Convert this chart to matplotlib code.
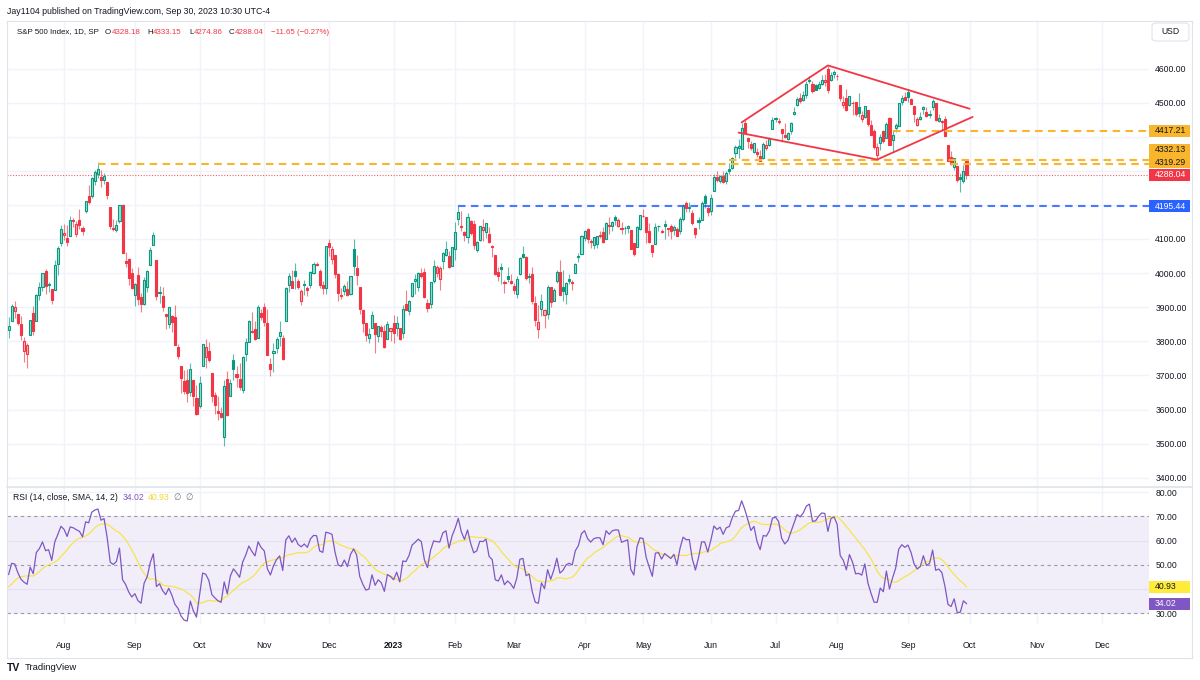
import numpy as np
import pandas as pd
import matplotlib
matplotlib.use("Agg")
import matplotlib.pyplot as plt
from matplotlib.patches import Rectangle, FancyBboxPatch
from matplotlib.lines import Line2D

FONT = ['Liberation Sans', 'DejaVu Sans']
plt.rcParams['font.family'] = FONT

# ---------------- texts ----------------
TITLE = "Jay1104 published on TradingView.com, Sep 30, 2023 10:30 UTC-4"
SYMBOL = "S&P 500 Index, 1D, SP"
RSI_TITLE = "RSI (14, close, SMA, 14, 2)"
RSI_LAST = 34.02
RSI_MA_LAST = 40.93

# ---------------- data (S&P 500 daily O, H, L, C) ----------------
WARMUP_CLOSES = [4545.9, 4582.6, 4525.1, 4481.2, 4500.2, 4488.3, 4412.5, 4397.5, 4446.6, 4392.6,
                 4391.7, 4462.2, 4459.5, 4393.7, 4271.8, 4296.1, 4175.2, 4184.0, 4287.5, 4131.9,
                 4155.4, 4175.5, 4300.2, 4146.9, 4123.3, 3991.2, 4001.1, 3935.2, 3930.1, 4023.9,
                 4008.0, 4088.9, 3923.7, 3900.8, 3901.4, 3973.8, 3941.5, 3978.7, 4057.8, 4158.2,
                 4132.2, 4101.2, 4176.8, 4108.5, 4121.4, 4160.7, 4115.8, 4017.8, 3900.9, 3749.6,
                 3735.5, 3790.0, 3666.8, 3674.8, 3764.8, 3759.9, 3795.7, 3911.7, 3900.1, 3821.6,
                 3818.8, 3785.4, 3825.3, 3831.4]

JUL22 = [(3832.0, 3870.9, 3809.4, 3845.1), (3858.9, 3910.6, 3858.9, 3902.6), (3888.3, 3918.5, 3869.3, 3899.4),
         (3880.9, 3880.9, 3847.2, 3854.4), (3852.0, 3873.4, 3802.4, 3818.8), (3771.8, 3813.1, 3740.3, 3801.8),
         (3764.0, 3796.4, 3721.6, 3790.4), (3818.0, 3863.6, 3817.2, 3863.2), (3883.8, 3902.4, 3818.6, 3830.9),
         (3860.7, 3939.8, 3860.7, 3936.7), (3935.3, 3974.1, 3922.0, 3959.9), (3960.6, 3999.3, 3946.7, 3999.0),
         (4007.0, 4012.4, 3938.9, 3961.6), (3965.7, 3975.3, 3943.5, 3966.8), (3953.2, 3953.2, 3910.7, 3921.1),
         (3951.4, 4039.6, 3951.4, 4023.6), (4026.1, 4079.0, 3993.0, 4072.4), (4087.3, 4140.2, 4079.2, 4130.3)]
AUG22 = [(4112.4, 4145.0, 4096.0, 4118.6), (4104.2, 4140.5, 4079.8, 4091.2), (4108.0, 4167.7, 4108.0, 4155.2),
         (4154.9, 4161.3, 4135.4, 4151.9), (4115.9, 4151.6, 4107.3, 4145.2), (4155.9, 4186.6, 4129.0, 4140.1),
         (4133.1, 4137.3, 4112.1, 4122.5), (4181.0, 4211.0, 4177.3, 4210.2), (4227.4, 4257.9, 4201.4, 4207.3),
         (4225.0, 4280.5, 4219.8, 4280.2), (4269.4, 4301.8, 4256.9, 4297.1), (4290.5, 4325.3, 4277.8, 4305.2),
         (4280.4, 4302.2, 4253.1, 4274.0), (4273.1, 4292.5, 4262.0, 4283.7), (4266.3, 4266.3, 4218.7, 4228.5),
         (4195.1, 4195.1, 4129.9, 4138.0), (4133.1, 4159.8, 4124.0, 4128.7), (4126.6, 4156.6, 4120.0, 4140.8),
         (4153.3, 4200.5, 4147.6, 4199.1), (4198.7, 4203.0, 4057.7, 4057.7), (4034.6, 4063.0, 4017.4, 4030.6),
         (4041.3, 4045.0, 3965.2, 3986.2), (4000.7, 4015.4, 3954.5, 3955.0)]
SEP22 = [(3936.7, 3970.2, 3903.7, 3966.9), (3994.7, 4018.4, 3906.2, 3924.3), (3930.9, 3942.6, 3886.8, 3908.2),
         (3909.4, 3987.9, 3906.0, 3979.9), (3959.9, 4010.5, 3944.8, 4006.2), (4022.9, 4076.8, 4022.9, 4067.4),
         (4083.7, 4119.3, 4083.7, 4110.4), (4037.1, 4037.1, 3921.8, 3932.7), (3940.7, 3961.9, 3912.3, 3946.0),
         (3932.4, 3959.1, 3888.3, 3901.4), (3881.0, 3881.0, 3837.1, 3873.3), (3849.9, 3900.5, 3838.5, 3899.9),
         (3875.2, 3876.0, 3827.5, 3855.9), (3871.4, 3907.1, 3789.5, 3789.9), (3782.4, 3790.7, 3749.5, 3758.0),
         (3727.1, 3727.1, 3647.5, 3693.2), (3682.7, 3715.7, 3644.8, 3655.0), (3686.4, 3717.5, 3623.3, 3647.3),
         (3651.9, 3736.7, 3640.6, 3719.0), (3687.0, 3687.0, 3610.4, 3640.5), (3633.5, 3671.4, 3584.1, 3585.6)]
OCT22 = [(3609.8, 3698.4, 3604.9, 3678.4), (3726.5, 3791.9, 3726.5, 3790.9), (3753.3, 3806.9, 3722.7, 3783.3),
         (3772.0, 3797.9, 3739.2, 3744.5), (3706.7, 3706.7, 3620.7, 3639.7), (3643.3, 3652.2, 3588.1, 3612.4),
         (3595.9, 3640.7, 3568.5, 3588.8), (3590.8, 3608.3, 3573.9, 3577.0), (3520.4, 3685.4, 3491.6, 3669.9),
         (3690.4, 3712.0, 3579.7, 3583.1), (3638.7, 3689.7, 3638.7, 3678.0), (3746.3, 3762.8, 3686.5, 3720.0),
         (3703.1, 3728.6, 3666.5, 3695.2), (3689.1, 3736.0, 3656.4, 3665.8), (3657.1, 3757.9, 3647.4, 3752.8),
         (3762.0, 3810.7, 3741.7, 3797.3), (3799.4, 3862.9, 3799.4, 3859.1), (3826.0, 3886.2, 3824.1, 3830.6),
         (3834.7, 3860.0, 3803.8, 3807.3), (3808.3, 3905.4, 3808.3, 3901.1), (3881.9, 3893.7, 3863.2, 3872.0)]
NOV22 = [(3901.8, 3911.8, 3843.8, 3856.1), (3852.9, 3894.4, 3758.7, 3759.7), (3733.3, 3750.6, 3698.2, 3719.9),
         (3767.0, 3796.3, 3708.8, 3770.6), (3780.7, 3814.0, 3764.7, 3806.8), (3817.0, 3859.4, 3786.3, 3828.1),
         (3810.9, 3818.2, 3744.2, 3748.6), (3859.9, 3958.3, 3859.9, 3956.4), (3963.7, 4001.5, 3944.8, 3992.9),
         (3978.0, 4009.0, 3956.4, 3957.3), (4006.4, 4028.8, 3953.2, 3991.7), (3976.8, 3983.1, 3954.3, 3958.8),
         (3919.3, 3954.3, 3906.5, 3946.6), (3966.4, 3979.9, 3936.0, 3965.3), (3956.2, 3962.0, 3933.3, 3949.9),
         (3965.5, 4005.9, 3956.9, 4003.6), (4000.3, 4033.8, 3998.7, 4027.3), (4023.3, 4034.0, 4020.8, 4026.1),
         (4005.4, 4012.3, 3955.8, 3963.9), (3964.2, 3976.8, 3937.7, 3957.6), (3957.2, 4080.1, 3938.6, 4080.1)]
DEC22 = [(4087.1, 4100.5, 4050.9, 4076.6), (4040.2, 4080.5, 4026.6, 4071.7), (4052.0, 4052.5, 3984.5, 3998.8),
         (3996.6, 4001.5, 3918.4, 3941.3), (3933.3, 3957.6, 3922.7, 3933.9), (3947.8, 3966.7, 3935.8, 3963.5),
         (3954.2, 3977.0, 3933.0, 3934.4), (3939.3, 3990.7, 3935.3, 3990.6), (4069.4, 4101.0, 3993.0, 4019.7),
         (4015.5, 4053.8, 3965.7, 3995.3), (3958.4, 3958.4, 3879.5, 3895.8), (3890.9, 3890.9, 3827.9, 3852.4),
         (3853.8, 3854.9, 3800.0, 3817.7), (3810.5, 3838.2, 3795.6, 3821.6), (3839.5, 3889.8, 3839.5, 3878.4),
         (3853.3, 3853.3, 3764.5, 3822.4), (3815.1, 3845.8, 3797.0, 3844.8), (3843.3, 3846.7, 3813.2, 3829.3),
         (3829.6, 3848.3, 3780.8, 3783.2), (3805.5, 3858.2, 3805.5, 3849.3), (3829.1, 3839.9, 3800.3, 3839.5)]
JAN23 = [(3853.3, 3878.5, 3794.3, 3824.1), (3840.4, 3873.2, 3815.8, 3853.0), (3839.7, 3839.7, 3802.4, 3808.1),
         (3823.4, 3906.2, 3809.6, 3895.1), (3910.8, 3950.6, 3890.4, 3892.1), (3888.6, 3919.8, 3877.3, 3919.3),
         (3932.4, 3970.1, 3928.5, 3969.6), (3977.6, 3997.8, 3937.6, 3983.2), (3960.6, 4004.0, 3947.7, 3999.1),
         (3999.3, 4015.4, 3984.6, 3991.0), (4002.3, 4014.2, 3926.6, 3928.9), (3911.8, 3922.9, 3885.5, 3898.9),
         (3909.0, 3973.0, 3897.9, 3972.6), (3978.1, 4039.3, 3971.6, 4019.8), (4001.7, 4023.9, 3989.8, 4017.0),
         (3982.7, 4019.6, 3949.1, 4016.2), (4036.1, 4061.6, 4013.3, 4060.4), (4053.7, 4094.2, 4048.7, 4070.6),
         (4049.3, 4063.9, 4015.6, 4017.8), (4020.9, 4077.2, 4020.4, 4076.6)]
FEB23 = [(4070.1, 4149.0, 4037.2, 4119.2), (4158.7, 4195.4, 4141.9, 4179.8), (4136.7, 4182.4, 4123.4, 4136.5),
         (4119.6, 4124.6, 4093.4, 4111.1), (4105.4, 4176.5, 4088.4, 4164.0), (4153.5, 4156.9, 4111.7, 4117.9),
         (4144.3, 4156.2, 4069.7, 4081.5), (4068.9, 4094.4, 4060.8, 4090.5), (4096.6, 4138.9, 4092.7, 4137.3),
         (4126.7, 4159.8, 4095.0, 4136.1), (4119.5, 4148.1, 4104.0, 4147.6), (4114.8, 4136.5, 4089.5, 4090.4),
         (4077.4, 4081.5, 4048.0, 4079.1), (4052.4, 4052.4, 3995.2, 3997.3), (4001.8, 4017.4, 3976.9, 3991.1),
         (4018.6, 4028.3, 3969.2, 4012.3), (3973.2, 3978.3, 3943.1, 3970.0), (3992.4, 4018.1, 3973.6, 3982.2),
         (3977.2, 3997.5, 3969.0, 3970.2)]
MAR23 = [(3963.3, 3971.7, 3939.1, 3951.4), (3938.7, 3990.8, 3928.2, 3981.4), (3998.0, 4048.3, 3995.2, 4045.6),
         (4055.2, 4078.5, 4044.6, 4048.4), (4048.3, 4050.0, 3980.3, 3986.4), (3987.6, 4000.4, 3969.8, 3992.0),
         (3998.7, 4017.8, 3908.7, 3918.3), (3912.8, 3934.1, 3846.3, 3861.6), (3835.1, 3905.1, 3808.9, 3855.8),
         (3894.0, 3937.3, 3873.6, 3919.3), (3876.7, 3894.3, 3838.2, 3891.9), (3878.9, 3964.5, 3864.1, 3960.3),
         (3958.7, 3958.9, 3901.3, 3916.6), (3917.5, 3956.6, 3916.9, 3951.6), (3975.9, 4009.1, 3971.2, 4002.9),
         (4002.0, 4039.5, 3936.2, 3937.0), (3959.2, 4007.7, 3919.1, 3948.7), (3939.2, 3972.7, 3909.2, 3971.0),
         (3982.9, 3996.5, 3969.4, 3977.5), (3974.1, 3979.2, 3951.5, 3971.3), (3999.5, 4030.6, 3999.5, 4027.8),
         (4046.7, 4057.9, 4032.1, 4050.8), (4056.2, 4110.8, 4056.2, 4109.3)]
APR23 = [(4102.2, 4127.7, 4095.3, 4124.5), (4128.0, 4133.1, 4086.9, 4100.6), (4094.5, 4099.7, 4072.6, 4090.4),
         (4081.2, 4107.3, 4069.8, 4105.0), (4085.2, 4109.5, 4072.6, 4109.1), (4110.3, 4124.3, 4102.6, 4108.9),
         (4121.7, 4134.4, 4086.9, 4092.0), (4100.0, 4150.3, 4099.4, 4146.2), (4140.1, 4163.2, 4113.2, 4137.6),
         (4137.2, 4151.7, 4123.2, 4151.3), (4164.3, 4169.5, 4140.4, 4154.9), (4139.3, 4162.6, 4134.5, 4154.5),
         (4130.5, 4148.6, 4114.6, 4129.8), (4132.1, 4138.0, 4113.9, 4133.5), (4132.1, 4142.4, 4117.8, 4137.0),
         (4126.4, 4126.4, 4071.4, 4071.6), (4087.8, 4089.7, 4049.4, 4056.0), (4075.3, 4138.2, 4075.3, 4135.4),
         (4129.6, 4170.1, 4127.2, 4169.5)]
MAY23 = [(4166.8, 4186.9, 4164.1, 4167.9), (4164.1, 4164.1, 4089.7, 4119.6), (4122.3, 4148.3, 4088.9, 4090.8),
         (4082.6, 4082.6, 4048.3, 4061.2), (4084.7, 4147.0, 4084.7, 4136.3), (4137.0, 4142.3, 4123.8, 4138.1),
         (4124.3, 4130.4, 4116.7, 4119.2), (4143.7, 4154.3, 4098.9, 4137.6), (4132.2, 4132.8, 4109.3, 4130.6),
         (4138.5, 4143.7, 4099.1, 4124.1), (4126.7, 4141.3, 4110.3, 4136.3), (4128.0, 4135.5, 4109.9, 4109.9),
         (4122.9, 4164.7, 4113.6, 4158.8), (4157.7, 4202.2, 4153.5, 4198.1), (4204.2, 4212.9, 4180.2, 4192.0),
         (4190.8, 4209.2, 4179.7, 4192.6), (4176.8, 4185.7, 4142.5, 4145.6), (4133.0, 4133.0, 4104.0, 4115.2),
         (4155.7, 4165.7, 4129.7, 4151.3), (4156.2, 4212.9, 4156.2, 4205.5), (4226.7, 4231.1, 4192.2, 4205.5),
         (4190.7, 4195.4, 4166.2, 4179.8)]
JUN23 = [(4183.0, 4232.4, 4171.6, 4221.0), (4241.0, 4290.7, 4241.0, 4282.4), (4283.0, 4299.3, 4266.8, 4273.8),
         (4271.3, 4288.3, 4263.1, 4283.9), (4285.5, 4299.2, 4264.0, 4267.5), (4268.7, 4298.0, 4261.1, 4293.9),
         (4304.9, 4322.6, 4291.7, 4298.9), (4308.3, 4340.1, 4304.4, 4338.9), (4352.6, 4375.4, 4337.7, 4369.0),
         (4366.3, 4391.8, 4337.9, 4372.6), (4365.3, 4439.2, 4362.6, 4425.8), (4441.0, 4448.5, 4407.4, 4409.6),
         (4396.1, 4400.2, 4367.2, 4388.7), (4380.0, 4386.2, 4360.1, 4365.7), (4355.4, 4382.3, 4351.8, 4381.9),
         (4354.2, 4366.6, 4341.3, 4348.3), (4344.8, 4362.1, 4328.1, 4328.8), (4337.4, 4384.4, 4335.0, 4378.4),
         (4367.5, 4390.4, 4360.2, 4376.9), (4374.9, 4398.4, 4372.0, 4396.4), (4422.4, 4458.5, 4422.4, 4450.4)]
JUL23 = [(4450.5, 4456.5, 4442.3, 4455.6), (4442.0, 4454.1, 4436.6, 4446.8), (4422.6, 4422.6, 4385.1, 4411.6),
         (4404.5, 4440.4, 4397.4, 4399.0), (4394.2, 4412.6, 4389.9, 4409.5), (4415.6, 4443.6, 4408.5, 4439.3),
         (4467.7, 4488.3, 4463.2, 4472.2), (4491.5, 4517.4, 4489.4, 4510.0), (4514.6, 4527.8, 4499.6, 4505.4),
         (4508.9, 4532.9, 4504.9, 4522.8), (4521.8, 4562.3, 4514.6, 4555.0), (4563.9, 4578.4, 4557.5, 4565.7),
         (4554.4, 4564.7, 4527.6, 4534.9), (4550.2, 4555.0, 4535.8, 4536.3), (4543.4, 4563.4, 4541.3, 4554.6),
         (4555.2, 4580.6, 4552.4, 4567.5), (4559.0, 4582.5, 4547.6, 4566.8), (4598.3, 4607.1, 4528.6, 4537.4),
         (4565.8, 4590.2, 4564.0, 4582.2), (4584.8, 4594.2, 4573.1, 4589.0)]
AUG23 = [(4578.8, 4584.6, 4567.5, 4576.7), (4550.9, 4550.9, 4505.8, 4513.4), (4494.3, 4519.5, 4485.5, 4501.9),
         (4514.0, 4540.3, 4474.6, 4478.0), (4491.6, 4519.8, 4491.2, 4518.4), (4498.0, 4503.3, 4464.4, 4499.4),
         (4501.6, 4502.4, 4461.3, 4467.7), (4487.2, 4527.4, 4457.9, 4468.8), (4450.7, 4476.2, 4444.0, 4464.1),
         (4458.1, 4490.3, 4453.4, 4489.7), (4478.9, 4478.9, 4432.2, 4437.9), (4433.8, 4450.0, 4403.6, 4404.3),
         (4416.3, 4421.2, 4364.8, 4370.4), (4344.9, 4381.8, 4335.3, 4369.7), (4380.3, 4407.6, 4360.3, 4399.8),
         (4415.3, 4418.6, 4382.8, 4387.6), (4396.4, 4443.2, 4396.4, 4436.0), (4455.2, 4458.3, 4375.6, 4376.3),
         (4389.4, 4418.5, 4356.3, 4405.7), (4426.0, 4439.6, 4415.0, 4433.3), (4432.8, 4500.1, 4431.7, 4497.6),
         (4500.3, 4521.7, 4493.6, 4514.9), (4517.0, 4532.3, 4507.4, 4507.7)]
SEP23 = [(4530.6, 4541.3, 4501.4, 4515.8), (4510.1, 4514.3, 4496.0, 4496.8), (4490.4, 4490.4, 4442.4, 4465.5),
         (4434.6, 4457.8, 4430.5, 4451.1), (4451.3, 4473.5, 4448.4, 4457.5), (4481.0, 4490.8, 4467.9, 4487.5),
         (4473.3, 4487.1, 4456.8, 4461.9), (4462.7, 4479.4, 4453.5, 4467.4), (4487.8, 4512.0, 4478.7, 4505.1),
         (4498.0, 4498.0, 4447.2, 4450.3), (4445.1, 4466.4, 4442.1, 4453.5), (4445.4, 4449.9, 4416.6, 4444.0),
         (4452.8, 4461.0, 4401.4, 4402.2), (4374.4, 4375.7, 4329.2, 4330.0), (4341.7, 4357.4, 4316.5, 4320.1),
         (4310.6, 4338.5, 4302.7, 4337.4), (4312.9, 4313.0, 4266.0, 4273.5), (4282.6, 4292.1, 4238.6, 4274.5),
         (4269.7, 4317.3, 4264.4, 4299.69), (4328.18, 4333.15, 4274.86, 4288.04)]

HOLIDAYS = ["2022-09-05", "2022-11-24", "2022-12-26", "2023-01-02", "2023-01-16", "2023-02-20",
            "2023-04-07", "2023-05-29", "2023-06-19", "2023-07-04", "2023-09-04", "2023-11-23",
            "2023-12-25"]

ORANGE_LEVELS = [4417.21, 4332.13, 4319.29]
ORANGE_FROM = ["2023-08-25", "2023-06-09", "2022-08-16"]
BLUE_LEVEL = 4195.44
BLUE_FROM = "2023-02-02"
DIAMOND_UPPER = [("2023-06-15", 4442), ("2023-07-27", 4609), ("2023-10-02", 4482)]
DIAMOND_LOWER = [("2023-06-14", 4412), ("2023-08-18", 4333), ("2023-10-03", 4458)]
PRICE_TICKS = list(range(3400, 4601, 100))
RSI_TICKS = [30, 40, 50, 60, 70, 80]
RSI_BANDS = [30, 50, 70]

# ---------------- colours ----------------
UP = '#089981'
DN = '#F23645'
UP_LIGHT = '#A8DBD3'
DN_LIGHT = '#FAB8C0'
TXT = '#131722'
GRID = '#F0F3FA'
BORDER = '#E0E3EB'
ORANGE = '#F9B52B'
BLUE = '#2962FF'
PURPLE = '#7E57C2'
YELLOW = '#F7E44C'
FS = 6.2
FS_LEG = 5.7

# ---------------- build series ----------------
rows = JUL22 + AUG22 + SEP22 + OCT22 + NOV22 + DEC22 + JAN23 + FEB23 + MAR23 + APR23 + MAY23 + JUN23 + JUL23 + AUG23 + SEP23
O = np.array([r[0] for r in rows])
Hh = np.array([r[1] for r in rows])
Ll = np.array([r[2] for r in rows])
C = np.array([r[3] for r in rows])
n = len(rows)

dates = pd.bdate_range("2022-07-06", "2023-12-29")
dates = dates[~dates.isin(pd.to_datetime(HOLIDAYS))]
pos = {d.strftime("%Y-%m-%d"): i for i, d in enumerate(dates)}
x = np.arange(n)

# RSI (Wilder) + SMA
closes_all = np.array(WARMUP_CLOSES + list(C))
delta = np.diff(closes_all)
up = np.clip(delta, 0, None)
dn = np.clip(-delta, 0, None)


def rma(v, p):
    out = np.full(len(v), np.nan)
    out[p - 1] = v[:p].mean()
    for i in range(p, len(v)):
        out[i] = (out[i - 1] * (p - 1) + v[i]) / p
    return out


au, ad = rma(up, 14), rma(dn, 14)
rsi_all = 100 - 100 / (1 + au / ad)
sma_all = pd.Series(rsi_all).rolling(14).mean().values
rsi = rsi_all[-n:]
rsi_ma = sma_all[-n:]

# ---------------- figure ----------------
W, Hpx = 1200, 680
fig = plt.figure(figsize=(12, 6.8), dpi=100)
fig.patch.set_facecolor('white')

L_PX, R_PX = 7, 1149
T_MAIN, B_MAIN = 20.5, 486.5
T_RSI, B_RSI = 487.5, 624
FRAME_R, FRAME_B = 1192, 657.5


def fx(px):
    return px / W


def fy(py):
    return 1 - py / Hpx


ax = fig.add_axes([fx(L_PX), fy(B_MAIN), (R_PX - L_PX) / W, (B_MAIN - T_MAIN) / Hpx])
axr = fig.add_axes([fx(L_PX), fy(B_RSI), (R_PX - L_PX) / W, (B_RSI - T_RSI) / Hpx])

PX_PER_BAR = 3.08
X0_PX = 8.6
xmin = (L_PX - X0_PX) / PX_PER_BAR
xmax = (R_PX - X0_PX) / PX_PER_BAR
PX_PER_100 = 34.1
Y4600 = 68.5
ytop = 4600 + (Y4600 - T_MAIN) / PX_PER_100 * 100
ybot = 4600 - (B_MAIN - Y4600) / PX_PER_100 * 100
RSI_PX = 2.4275
rtop = 80 + (492 - T_RSI) / RSI_PX
rbot = 80 - (B_RSI - 492) / RSI_PX

for a in (ax, axr):
    a.set_xlim(xmin, xmax)
    a.set_facecolor('white')
    for s in a.spines.values():
        s.set_visible(False)
    a.tick_params(length=0)
ax.set_ylim(ybot, ytop)
axr.set_ylim(rbot, rtop)


def data_to_py(a, yval):
    _, yd = a.transData.transform((0, yval))
    return Hpx - yd


# ---------------- badges (positions first) ----------------
badges = [(lvl, f"{lvl:.2f}", ORANGE, TXT) for lvl in ORANGE_LEVELS]
badges += [(C[-1], f"{C[-1]:.2f}", DN, 'white'), (BLUE_LEVEL, f"{BLUE_LEVEL:.2f}", BLUE, 'white')]
items = sorted([(data_to_py(ax, v), t, fc, tc) for v, t, fc, tc in badges], key=lambda z: -z[0])
BH = 12.0
main_badges = []
last = None
for py, t, fc, tc in items:
    if last is not None and last - py < BH + 0.5:
        py = last - BH - 0.5
    main_badges.append((py, t, fc, tc))
    last = py
rsi_badges = [(data_to_py(axr, v), t, fc, tc) for v, t, fc, tc in
              [(RSI_MA_LAST, f"{RSI_MA_LAST:.2f}", '#FFEB3B', TXT), (RSI_LAST, f"{RSI_LAST:.2f}", PURPLE, 'white')]]


def tick_labels(a, ticks, blist):
    labs = []
    for t in ticks:
        py = data_to_py(a, t)
        hidden = any(abs(py - b[0]) < 8.5 for b in blist)
        labs.append("" if hidden else f"{t:.2f}")
    return labs


# month ticks
month_idx, month_lab = [], []
prev = None
for i, d in enumerate(dates):
    key = (d.year, d.month)
    if key != prev:
        if i > 0:
            month_idx.append(i)
            month_lab.append("2023" if d.month == 1 else d.strftime("%b"))
        prev = key
for a in (ax, axr):
    for mi in month_idx:
        a.axvline(mi, color=GRID, lw=1, zorder=0)
for p in PRICE_TICKS:
    ax.axhline(p, color=GRID, lw=1, zorder=0)
for p in RSI_TICKS:
    axr.axhline(p, color=GRID, lw=1, zorder=0)

ax.yaxis.tick_right()
ax.set_yticks(PRICE_TICKS)
ax.set_yticklabels(tick_labels(ax, PRICE_TICKS, main_badges), fontsize=FS, color=TXT)
ax.tick_params(axis='y', pad=4.5)
ax.set_xticks([])
axr.yaxis.tick_right()
axr.set_yticks(RSI_TICKS)
axr.set_yticklabels(tick_labels(axr, RSI_TICKS, rsi_badges), fontsize=FS, color=TXT)
axr.tick_params(axis='y', pad=4.5)
axr.set_xticks([])

for mi, lab in zip(month_idx, month_lab):
    xp = X0_PX + mi * PX_PER_BAR
    if xp < R_PX - 10:
        fig.text(fx(xp), fy(646), lab, ha='center', va='center', fontsize=FS, color=TXT,
                 fontweight='bold' if lab == "2023" else 'normal')

# ---------------- candles ----------------
prevc = np.concatenate([[WARMUP_CLOSES[-1]], C[:-1]])
col = np.where(C >= prevc, UP, DN)
light = np.where(C >= prevc, UP_LIGHT, DN_LIGHT)
top = np.maximum(O, C)
bot = np.minimum(O, C)
hgt = np.maximum(top - bot, 1.5)
BW = 0.68
ax.vlines(x, top, Hh, colors=col, lw=0.8, alpha=0.65, zorder=2)
ax.vlines(x, Ll, bot, colors=col, lw=0.8, alpha=0.65, zorder=2)
hollow = C >= O
ax.bar(x[hollow], hgt[hollow], bottom=bot[hollow], width=BW, color=light[hollow],
       edgecolor=col[hollow], linewidth=0.8, zorder=3)
ax.bar(x[~hollow], hgt[~hollow], bottom=bot[~hollow], width=BW, color=col[~hollow],
       edgecolor=col[~hollow], linewidth=0.8, zorder=3)

# ---------------- drawings ----------------
for lvl, frm in zip(ORANGE_LEVELS, ORANGE_FROM):
    ax.plot([pos[frm], xmax], [lvl, lvl], color=ORANGE, lw=1.5, dashes=(3.6, 2.6), zorder=4,
            dash_capstyle='butt')
ax.plot([pos[BLUE_FROM], xmax], [BLUE_LEVEL, BLUE_LEVEL], color=BLUE, lw=1.5, dashes=(3.6, 2.6),
        zorder=4, alpha=0.85, dash_capstyle='butt')
ax.plot([xmin, xmax], [C[-1], C[-1]], color=DN, lw=0.8, dashes=(1, 1.5), zorder=1, alpha=0.8)
for seq in (DIAMOND_UPPER, DIAMOND_LOWER):
    ax.plot([pos[d] for d, _ in seq], [v for _, v in seq], color=DN, lw=1.3, zorder=5,
            solid_capstyle='round')

# ---------------- RSI ----------------
axr.axhspan(30, 70, color='#F2EEF9', zorder=0, lw=0)
for p in (40, 60):
    axr.axhline(p, color='#E6E1F2', lw=1, zorder=0.5)
for b in RSI_BANDS:
    axr.axhline(b, color='#9A9CA5', lw=0.8, dashes=(3, 3), zorder=1)
axr.plot(x, rsi_ma, color=YELLOW, lw=0.9, zorder=2)
axr.plot(x, rsi, color=PURPLE, lw=0.9, zorder=3)

# ---------------- frame / separators ----------------
fig.add_artist(Line2D([fx(L_PX), fx(FRAME_R)], [fy(T_MAIN), fy(T_MAIN)], color=BORDER, lw=0.8))
fig.add_artist(Line2D([fx(L_PX), fx(FRAME_R)], [fy(FRAME_B), fy(FRAME_B)], color=BORDER, lw=0.8))
fig.add_artist(Line2D([fx(L_PX), fx(L_PX)], [fy(T_MAIN), fy(FRAME_B)], color=BORDER, lw=0.8))
fig.add_artist(Line2D([fx(FRAME_R), fx(FRAME_R)], [fy(T_MAIN), fy(FRAME_B)], color=BORDER, lw=0.8))
fig.add_artist(Line2D([fx(L_PX), fx(FRAME_R)], [fy(487), fy(487)], color=BORDER, lw=1.2))

# USD box
fig.add_artist(FancyBboxPatch((fx(1152), fy(41)), (1189 - 1152) / W, 18 / Hpx,
                              boxstyle="round,pad=0,rounding_size=0.004", transform=fig.transFigure,
                              fc='white', ec=BORDER, lw=0.8))
fig.text(fx(1170.5), fy(32), "USD", ha='center', va='center', fontsize=FS, color=TXT)

for py, t, fc, tc in main_badges + rsi_badges:
    fig.add_artist(Rectangle((fx(R_PX), fy(py + BH / 2)), (1190 - R_PX) / W, BH / Hpx,
                             transform=fig.transFigure, fc=fc, ec='none', zorder=5))
    fig.text(fx(1155), fy(py), t, ha='left', va='center', fontsize=FS, color=tc, zorder=6)

# ---------------- header texts ----------------
fig.text(fx(7), fy(12), TITLE, ha='left', va='center', fontsize=6.3, color=TXT)
chg = C[-1] - C[-2]
pct = chg / C[-2] * 100
LEGEND_X = [17, 105, 111.8, 147, 153.3, 189, 193.8, 229, 235.3, 271]
legend_pieces = [(SYMBOL, TXT), ("O", TXT), (f"{O[-1]:.2f}", DN), ("H", TXT), (f"{Hh[-1]:.2f}", DN),
                 ("L", TXT), (f"{Ll[-1]:.2f}", DN), ("C", TXT), (f"{C[-1]:.2f}", DN),
                 (f"\u2212{abs(chg):.2f} (\u2212{abs(pct):.2f}%)", DN)]
for xp, (s, c) in zip(LEGEND_X, legend_pieces):
    fig.text(fx(xp), fy(32), s, ha='left', va='center', fontsize=FS_LEG, color=c)

RSI_LEG_X = [13.3, 122.3, 148.3, 173.5, 185]
rsi_pieces = [(RSI_TITLE, TXT), (f"{RSI_LAST:.2f}", PURPLE), (f"{RSI_MA_LAST:.2f}", '#F2D731'),
              ("\u2205", '#787B86'), ("\u2205", '#787B86')]
for xp, (s, c) in zip(RSI_LEG_X, rsi_pieces):
    fig.text(fx(xp), fy(498), s, ha='left', va='center', fontsize=FS, color=c, family=FONT)

# TradingView logo
fig.text(fx(7), fy(668), "TV", ha='left', va='center', fontsize=7.5, color=TXT, fontweight='heavy')
fig.text(fx(25), fy(668), "TradingView", ha='left', va='center', fontsize=6.8, color=TXT)

fig.savefig("out.png", dpi=100, facecolor='white')
